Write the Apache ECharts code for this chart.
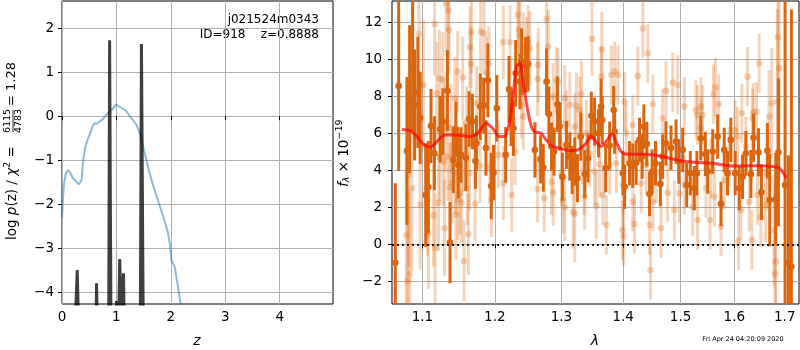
<!DOCTYPE html>
<html>
<head>
<meta charset="utf-8">
<script src="https://cdn.jsdelivr.net/npm/echarts@6/dist/echarts.min.js"></script>
<style>
html, body { margin: 0; padding: 0; background: #fff; }
#chart { width: 800px; height: 350px; }
</style>
</head>
<body>
<div id="chart"></div>
<script>
// ---- left panel: log p(z) ----
const zTicks = [0, 1, 2, 3, 4];
const logpTicks = [-4, -3, -2, -1, 0, 1, 2];

// [z, log p(z)]
const pzCurve = [
  [0, -2.32], [0.03, -1.6], [0.07, -1.30], [0.11, -1.23], [0.15, -1.28], [0.20, -1.41],
  [0.26, -1.48], [0.31, -1.55], [0.32, -1.58], [0.36, -1.45], [0.39, -0.99], [0.43, -0.69],
  [0.48, -0.50], [0.52, -0.39], [0.56, -0.23], [0.60, -0.16], [0.64, -0.17], [0.69, -0.12],
  [0.75, -0.07], [0.81, 0.03], [0.88, 0.11], [0.94, 0.18], [0.99, 0.27], [1.05, 0.22],
  [1.12, 0.17], [1.18, 0.12], [1.24, 0.01], [1.30, -0.08], [1.37, -0.20], [1.43, -0.39],
  [1.49, -0.69], [1.55, -0.99], [1.61, -1.30], [1.68, -1.60], [1.76, -1.90], [1.86, -2.28],
  [1.95, -2.66], [1.99, -2.96], [2.01, -3.27], [2.07, -3.42], [2.13, -3.87], [2.18, -4.27],
  [2.22, -4.6]
];

// [z, log p(z)] of the sharp template fit
const pzFit = [
  [0.20, -6], [0.28, -3.5], [0.30, -3.47], [0.33, -6],
  [0.61, -6], [0.635, -3.8], [0.645, -3.83], [0.67, -6],
  [0.855, -6], [0.875, 1.73], [0.885, 1.72], [0.905, -6],
  [0.985, -6], [1.0, -4.2], [1.03, -4.2], [1.045, -4.5], [1.06, -3.25], [1.075, -3.28],
  [1.09, -4.5], [1.115, -4.5], [1.13, -3.57], [1.145, -3.6], [1.16, -6],
  [1.435, -6], [1.46, 1.64], [1.475, 1.63], [1.50, -6], [2.5, -6]
];

// ---- right panel: spectrum ----
const lamTicks = [1.1, 1.2, 1.3, 1.4, 1.5, 1.6, 1.7];
const fluxTicks = [-2, 0, 2, 4, 6, 8, 10, 12];

// [lambda, flux, err]
const specDark = [
  [1.0647, -1.0, 4.3], [1.0690, 8.56, 4.6], [1.0797, 5.04, 4.0], [1.0832, 7.84, 4.0],
  [1.0871, 9.64, 3.5], [1.0897, 7.53, 3.0], [1.0940, 8.21, 3.0], [1.0970, 6.83, 2.5],
  [1.1043, 2.66, 2.8], [1.1078, 3.08, 2.5], [1.1114, 6.39, 2.0], [1.1159, 4.92, 2.0],
  [1.1236, 6.22, 1.8], [1.1272, 6.63, 1.8], [1.1335, 8.30, 2.2], [1.1371, 0.09, 2.2],
  [1.1416, 4.56, 1.8], [1.1452, 6.22, 1.5], [1.1484, 4.29, 1.8], [1.1520, 4.83, 1.5],
  [1.1589, 4.68, 1.8], [1.1635, 6.77, 1.5], [1.1681, 6.63, 1.5], [1.1723, 4.50, 1.5],
  [1.1737, 5.46, 1.5], [1.1792, 7.44, 1.8], [1.1839, 7.51, 1.5], [1.1872, 5.21, 1.5],
  [1.1900, 8.86, 2.0], [1.1948, 3.15, 1.8], [1.1981, 3.87, 1.5], [1.2028, 7.35, 1.8],
  [1.2157, 4.83, 1.5], [1.2206, 8.38, 1.8], [1.2236, 6.81, 1.5], [1.2270, 6.27, 1.5],
  [1.2304, 9.24, 1.8], [1.2368, 8.79, 1.5], [1.2392, 9.87, 1.8], [1.2451, 9.69, 1.5],
  [1.2490, 9.75, 1.5], [1.2592, 5.10, 1.5], [1.2678, 4.59, 1.3], [1.2719, 4.14, 1.3],
  [1.2769, 8.79, 1.8], [1.2805, 7.04, 1.5], [1.2846, 5.28, 1.3], [1.2886, 5.01, 1.3],
  [1.2937, 7.57, 1.5], [1.2973, 6.36, 1.3], [1.3014, 3.65, 1.3], [1.3078, 5.37, 1.3],
  [1.3131, 4.74, 1.3], [1.3168, 4.02, 1.3], [1.3210, 4.47, 1.3], [1.3252, 3.57, 1.3],
  [1.3305, 5.82, 1.3], [1.3369, 3.80, 1.3], [1.3422, 4.65, 1.3], [1.3475, 6.95, 1.3],
  [1.3528, 6.63, 1.3], [1.3592, 6.00, 1.3], [1.3634, 7.44, 1.5], [1.3653, 6.72, 1.3],
  [1.3709, 4.11, 1.3], [1.3775, 5.33, 1.3], [1.3842, 7.26, 1.3], [1.3858, 6.09, 1.2],
  [1.3997, 3.84, 1.2], [1.4025, 3.11, 1.2], [1.4108, 4.38, 1.2], [1.4163, 4.25, 1.2],
  [1.4221, 4.41, 1.2], [1.4278, 5.64, 1.2], [1.4324, 4.74, 1.2], [1.4353, 6.36, 1.2],
  [1.4405, 5.42, 1.2], [1.4451, 2.72, 1.2], [1.4497, 3.93, 1.2], [1.4555, 4.38, 1.2],
  [1.4641, 3.26, 1.2], [1.4681, 4.74, 1.2], [1.4739, 5.46, 1.2], [1.4829, 5.22, 1.2],
  [1.4919, 5.55, 1.2], [1.4967, 4.47, 1.2], [1.5039, 5.10, 1.2], [1.5111, 3.20, 1.2],
  [1.5177, 3.84, 1.2], [1.5249, 3.03, 1.2], [1.5297, 3.84, 1.2], [1.5369, 5.73, 1.2],
  [1.5453, 4.88, 1.2], [1.5497, 3.93, 1.2], [1.5591, 5.01, 1.2], [1.5684, 5.82, 1.2],
  [1.5747, 2.18, 1.2], [1.5809, 5.10, 1.2], [1.5871, 3.84, 1.2], [1.5934, 5.64, 1.2],
  [1.6017, 3.84, 1.2], [1.6095, 3.03, 1.2], [1.6160, 3.65, 1.2], [1.6225, 4.92, 1.2],
  [1.6323, 3.80, 1.3], [1.6375, 5.76, 1.3], [1.6472, 4.97, 1.3], [1.6531, 2.81, 1.5],
  [1.6649, 5.06, 1.5], [1.6696, 2.39, 2.5], [1.6818, 2.43, 2.5], [1.6872, 4.97, 4.0],
  [1.7007, 3.20, 14], [1.7075, -1.0, 5.8], [1.7136, -1.21, 13.9]
];

const specLight = [
  [1.0789, 0.50, 5.0], [1.0832, -1.62, 4.5], [1.0806, -1.98, 5.0], [1.0862, 3.03, 4.5],
  [1.0819, 3.75, 5.0], [1.0953, 11.37, 3.5], [1.1013, 8.61, 3.5], [1.0970, 2.12, 3.5],
  [1.1067, 2.39, 3.0], [1.1080, 0.59, 3.0], [1.1170, -0.22, 3.0], [1.1147, 1.56, 2.8],
  [1.1161, 11.91, 2.8], [1.1215, 2.25, 2.6], [1.1228, 8.97, 2.6], [1.1192, 8.16, 2.8],
  [1.1273, 8.88, 2.6], [1.1304, 6.30, 2.4], [1.1296, 0.86, 2.6], [1.1318, 13.0, 2.6],
  [1.1349, 12.66, 2.6], [1.1356, 11.58, 2.4], [1.1385, 6.27, 2.4], [1.1237, 4.74, 2.4],
  [1.1282, 4.47, 2.4], [1.1342, 4.74, 2.4], [1.1371, 3.08, 2.4], [1.1398, 3.33, 2.2],
  [1.1439, 7.89, 2.2], [1.1446, 3.84, 2.2], [1.1452, 1.58, 2.4], [1.1475, 9.33, 2.2],
  [1.1482, 2.43, 2.2], [1.1508, 2.75, 2.2], [1.1530, 2.25, 2.2], [1.1545, 9.02, 2.2],
  [1.1552, 4.83, 2.0], [1.1564, -0.90, 2.2], [1.1601, 6.54, 2.0], [1.1610, 3.03, 2.0],
  [1.1625, 0.54, 2.2], [1.1648, 10.65, 2.2], [1.1660, 9.75, 2.0], [1.1640, 3.84, 2.0],
  [1.1667, 11.46, 2.2], [1.1718, 2.18, 2.0], [1.1742, 7.62, 2.0], [1.1788, 4.23, 2.0],
  [1.1798, 11.49, 2.2], [1.1845, 11.40, 2.2], [1.1882, 9.24, 2.0], [1.1915, 9.78, 2.0],
  [1.1928, 4.20, 2.0], [1.1952, 2.39, 2.0],
  [1.2334, 12.39, 2.2], [1.2353, 11.58, 2.0], [1.2368, 11.26, 2.0], [1.2123, 10.92, 2.0],
  [1.2221, 10.92, 2.0], [1.2490, 10.92, 2.0], [1.2515, 10.59, 2.0], [1.2417, 10.54, 2.0],
  [1.2466, 10.29, 2.0], [1.2642, 9.69, 2.0], [1.2769, 12.18, 2.0], [1.2795, 10.68, 2.0],
  [1.2632, 8.93, 2.0], [1.2922, 8.85, 1.8], [1.2947, 8.79, 1.8], [1.2871, 7.98, 1.8],
  [1.3051, 7.89, 1.8], [1.3131, 7.53, 1.8], [1.3316, 8.11, 1.8], [1.3486, 11.10, 2.0],
  [1.3645, 10.54, 2.0], [1.3236, 7.48, 1.8], [1.3289, 7.26, 1.8], [1.2417, 6.90, 1.8],
  [1.2392, 7.53, 1.8], [1.2294, 5.01, 1.8], [1.2050, 4.83, 1.8], [1.2123, 3.30, 2.0],
  [1.2246, 2.66, 2.0], [1.2632, 2.99, 1.8], [1.2734, 2.48, 1.8], [1.2871, 2.81, 1.8],
  [1.2846, 3.38, 1.8], [1.3025, 2.39, 1.8], [1.3051, 2.00, 1.8], [1.3184, 1.76, 2.0],
  [1.3210, 1.64, 2.6], [1.3369, 2.58, 1.8], [1.3555, 2.07, 1.8], [1.3326, 5.28, 1.8],
  [1.3395, 6.00, 1.8], [1.3528, 3.93, 1.8], [1.3608, 4.32, 1.8], [1.3078, 6.50, 1.8],
  [1.3210, 6.36, 1.8], [1.2998, 3.84, 1.8], [1.3358, 3.38, 1.8], [1.3448, 4.92, 1.8],
  [1.4336, 11.67, 1.6], [1.4422, 10.32, 1.6], [1.4249, 9.10, 1.6], [1.3858, 9.33, 1.6],
  [1.3803, 9.15, 1.6], [1.3914, 9.15, 1.6], [1.3637, 9.06, 1.6], [1.4739, 8.30, 1.6],
  [1.4859, 8.74, 1.6], [1.4949, 8.61, 1.6], [1.5069, 7.44, 1.6], [1.5279, 7.26, 1.6],
  [1.4024, 7.71, 1.6], [1.4509, 7.57, 1.6], [1.4681, 6.81, 1.6], [1.4163, 6.45, 1.6],
  [1.4052, 6.00, 1.6], [1.5309, 6.99, 1.6], [1.5369, 6.27, 1.6], [1.3775, 4.29, 1.6],
  [1.3886, 4.38, 1.6], [1.3664, 2.66, 1.6], [1.3997, 3.21, 1.6], [1.4307, 3.30, 1.6],
  [1.4393, 4.29, 1.6], [1.4566, 3.84, 1.6], [1.4769, 2.79, 1.6], [1.4889, 1.85, 1.6],
  [1.4979, 2.75, 1.6], [1.5219, 2.03, 1.6], [1.5309, 1.31, 1.6], [1.3720, 1.04, 1.6],
  [1.3986, 0.77, 1.6], [1.4008, 0.45, 1.6], [1.4192, 1.10, 1.6], [1.4451, 1.04, 1.6],
  [1.4652, 0.86, 1.6], [1.4468, -1.39, 1.6], [1.5069, 3.21, 1.6], [1.4163, 2.30, 1.6],
  [1.4509, 2.30, 1.6],
  [1.6485, 9.78, 1.6], [1.6258, 9.06, 1.6], [1.5641, 8.48, 1.6], [1.5603, 8.12, 1.6],
  [1.5703, 7.57, 1.6], [1.5372, 7.44, 1.6], [1.5403, 6.99, 1.6], [1.6147, 7.08, 1.6],
  [1.6368, 7.12, 1.6], [1.6433, 7.17, 1.6], [1.6355, 6.81, 1.6], [1.6737, 7.62, 3.0],
  [1.6852, 7.71, 5.0], [1.6885, 9.51, 6.0], [1.6862, 11.19, 6.0], [1.6683, 6.90, 2.5],
  [1.6017, 6.18, 1.6], [1.6063, 5.82, 1.6], [1.6225, 5.28, 1.6], [1.5559, 4.11, 1.6],
  [1.5622, 2.57, 1.6], [1.5466, 3.03, 1.6], [1.5541, 1.31, 1.6], [1.5747, 0.95, 1.6],
  [1.6082, 0.19, 1.6], [1.6128, 1.85, 1.6], [1.6342, 0.23, 1.6], [1.6518, 1.46, 1.6],
  [1.6615, 2.12, 2.0], [1.6453, 2.66, 1.6], [1.6784, 0.77, 3.0], [1.6818, -0.94, 5.0],
  [1.6804, -1.60, 5.0], [1.6290, 2.30, 1.6], [1.6649, 3.84, 2.0], [1.5903, 4.74, 1.6],
  [1.5809, 3.48, 1.6]
];

// [lambda, flux] best-fit model
const specModel = [
  [1.0732, 6.21], [1.0839, 6.14], [1.0927, 5.82], [1.1022, 5.37], [1.1102, 5.24],
  [1.1191, 5.55], [1.1301, 5.91], [1.1459, 5.91], [1.1641, 5.82], [1.1757, 6.00],
  [1.1874, 6.54], [1.1968, 6.27], [1.2064, 5.82], [1.2136, 5.82], [1.2209, 6.54],
  [1.2268, 8.16], [1.2317, 9.60], [1.2367, 9.78], [1.2417, 8.70], [1.2482, 7.26],
  [1.2532, 6.45], [1.2583, 6.09], [1.2685, 6.00], [1.2762, 5.64], [1.2864, 5.28],
  [1.2968, 5.19], [1.3125, 5.06], [1.3257, 5.10], [1.3391, 5.46], [1.3472, 5.85],
  [1.3553, 5.55], [1.3634, 5.28], [1.3716, 5.55], [1.3815, 5.96], [1.3870, 5.64],
  [1.3965, 5.01], [1.4049, 4.88], [1.4391, 4.86], [1.4681, 4.74], [1.4978, 4.52],
  [1.5280, 4.43], [1.5587, 4.38], [1.5900, 4.25], [1.6157, 4.23], [1.6487, 4.25],
  [1.6756, 4.20], [1.6893, 4.11], [1.6976, 3.84], [1.7032, 3.57]
];

const lamMin = 1.0605, lamMax = 1.7294;
const FONT = 'DejaVu Sans';
const DARK = '#d9660f';

const minus = v => (v < 0 ? '\u2212' + Math.abs(v) : String(v));
const toLn = arr => arr.map(d => [Math.log(d[0])].concat(d.slice(1)));

function errorBars(color, alpha, r, w) {
  return function (params, api) {
    const x = api.value(0), y = api.value(1), e = api.value(2);
    const lo = api.coord([x, y - e]);
    const hi = api.coord([x, y + e]);
    const c = api.coord([x, y]);
    return {
      type: 'group',
      children: [
        { type: 'line', shape: { x1: lo[0], y1: lo[1], x2: hi[0], y2: hi[1] },
          style: { stroke: color, lineWidth: w, opacity: alpha } },
        { type: 'circle', shape: { cx: c[0], cy: c[1], r: r },
          style: { fill: color, opacity: alpha } }
      ]
    };
  };
}

const tickStyle = { show: true, length: 4, lineStyle: { color: '#000', width: 1 } };
const gridLine = { show: true, lineStyle: { color: '#b0b0b0', width: 1 } };
const labelFont = { color: '#000', fontFamily: FONT, fontSize: 13.5 };

const chart = echarts.init(document.getElementById('chart'));

chart.setOption({
  animation: false,
  grid: [
    { left: 62, top: 1, width: 271, height: 303, show: true, borderColor: '#000', borderWidth: 1 },
    { left: 392, top: 1, width: 407, height: 303, show: true, borderColor: '#000', borderWidth: 1 }
  ],
  xAxis: [
    {
      gridIndex: 0, type: 'value', min: 0, max: 4.98,
      axisLine: { show: false },
      axisTick: Object.assign({ customValues: zTicks }, tickStyle),
      axisLabel: Object.assign({ customValues: zTicks, margin: 6, formatter: minus }, labelFont),
      splitLine: gridLine
    },
    {
      gridIndex: 1, type: 'value', min: Math.log(lamMin), max: Math.log(lamMax),
      axisLine: { show: false },
      axisTick: Object.assign({ customValues: lamTicks.map(Math.log) }, tickStyle),
      axisLabel: Object.assign({ customValues: lamTicks.map(Math.log), margin: 6,
        formatter: v => Math.exp(v).toFixed(1) }, labelFont),
      splitLine: gridLine
    }
  ],
  yAxis: [
    {
      gridIndex: 0, type: 'value', min: -4.27, max: 2.62,
      axisLine: { show: false },
      axisTick: Object.assign({ customValues: logpTicks }, tickStyle),
      axisLabel: Object.assign({ customValues: logpTicks, margin: 8, formatter: minus }, labelFont),
      splitLine: gridLine
    },
    {
      gridIndex: 1, type: 'value', min: -3.23, max: 13.15,
      axisLine: { show: false },
      axisTick: Object.assign({ customValues: fluxTicks }, tickStyle),
      axisLabel: Object.assign({ customValues: fluxTicks, margin: 10, formatter: minus }, labelFont),
      splitLine: gridLine
    }
  ],
  series: [
    {
      type: 'line', xAxisIndex: 0, yAxisIndex: 0, data: pzCurve, symbol: 'none',
      lineStyle: { color: '#1f77b4', width: 2, opacity: 0.5 }, z: 2
    },
    {
      type: 'line', xAxisIndex: 0, yAxisIndex: 0, data: pzFit, symbol: 'none',
      lineStyle: { color: '#000', width: 3, opacity: 0.75 }, z: 3
    },
    {
      type: 'custom', xAxisIndex: 1, yAxisIndex: 1, clip: true,
      data: toLn(specLight), renderItem: errorBars(DARK, 0.28, 3.3, 3), z: 2
    },
    {
      type: 'custom', xAxisIndex: 1, yAxisIndex: 1, clip: true,
      data: toLn(specDark), renderItem: errorBars(DARK, 1, 3.3, 3), z: 3
    },
    {
      type: 'line', xAxisIndex: 1, yAxisIndex: 1, data: toLn(specModel), symbol: 'none',
      smooth: 0.3,
      lineStyle: { color: '#ff0000', width: 3, opacity: 0.7 }, z: 4,
      markLine: {
        silent: true, symbol: 'none', label: { show: false },
        lineStyle: { color: '#000', type: [2, 3], width: 2, opacity: 0.85 },
        data: [{ yAxis: 0 }]
      }
    }
  ],
  graphic: [
    {
      type: 'text', x: 319, y: 20,
      style: { text: 'j021524m0343', fontFamily: FONT, fontSize: 12, fill: '#000', align: 'right', verticalAlign: 'middle' }
    },
    {
      type: 'text', x: 319, y: 35,
      style: { text: 'ID=918    z=0.8888', fontFamily: FONT, fontSize: 12, fill: '#000', align: 'right', verticalAlign: 'middle' }
    },
    {
      type: 'text', x: 197, y: 341,
      style: { text: 'z', fontFamily: FONT, fontSize: 14, fontStyle: 'italic', fill: '#000', align: 'center', verticalAlign: 'middle' }
    },
    {
      type: 'text', x: 595, y: 341,
      style: { text: 'λ', fontFamily: FONT, fontSize: 14, fontStyle: 'italic', fill: '#000', align: 'center', verticalAlign: 'middle' }
    },
    {
      type: 'text', x: 743, y: 339,
      style: { text: 'Fri Apr 24 04:20:09 2020', fontFamily: FONT, fontSize: 6.5, fill: '#000', align: 'center', verticalAlign: 'middle' }
    },
    {
      type: 'group', x: 12, y: 240, rotation: Math.PI / 2,
      children: [
        {
          type: 'text', x: 0, y: 0,
          style: {
            text: 'log {i|p}(z) / {i|χ}{s|2} =', fontFamily: FONT, fontSize: 13.5, fill: '#000',
            align: 'left', verticalAlign: 'middle',
            rich: {
              i: { fontFamily: FONT, fontSize: 13.5, fontStyle: 'italic', fill: '#000' },
              s: { fontFamily: FONT, fontSize: 9.5, fill: '#000', verticalAlign: 'top', padding: [0, 0, 8, 0] }
            }
          }
        },
        { type: 'text', x: 119, y: -4.5,
          style: { text: '6115', fontFamily: FONT, fontSize: 9.5, fill: '#000', align: 'center', verticalAlign: 'middle' } },
        { type: 'line', shape: { x1: 108, y1: 1, x2: 130, y2: 1 }, style: { stroke: '#000', lineWidth: 0.8 } },
        { type: 'text', x: 119, y: 6.5,
          style: { text: '4783', fontFamily: FONT, fontSize: 9.5, fill: '#000', align: 'center', verticalAlign: 'middle' } },
        { type: 'text', x: 134, y: 0,
          style: { text: '= 1.28', fontFamily: FONT, fontSize: 13, fill: '#000', align: 'left', verticalAlign: 'middle' } }
      ]
    },
    {
      type: 'group', x: 344, y: 187, rotation: Math.PI / 2,
      children: [
        {
          type: 'text', x: 0, y: 0,
          style: {
            text: '{i|f}{b|λ} × 10{s|−19}', fontFamily: FONT, fontSize: 13.5, fill: '#000',
            align: 'left', verticalAlign: 'middle',
            rich: {
              i: { fontFamily: FONT, fontSize: 13.5, fontStyle: 'italic', fill: '#000' },
              b: { fontFamily: FONT, fontSize: 9.5, fontStyle: 'italic', fill: '#000', padding: [6, 0, 0, 0] },
              s: { fontFamily: FONT, fontSize: 9.5, fill: '#000', padding: [0, 0, 8, 0] }
            }
          }
        }
      ]
    }
  ]
});
</script>
</body>
</html>
